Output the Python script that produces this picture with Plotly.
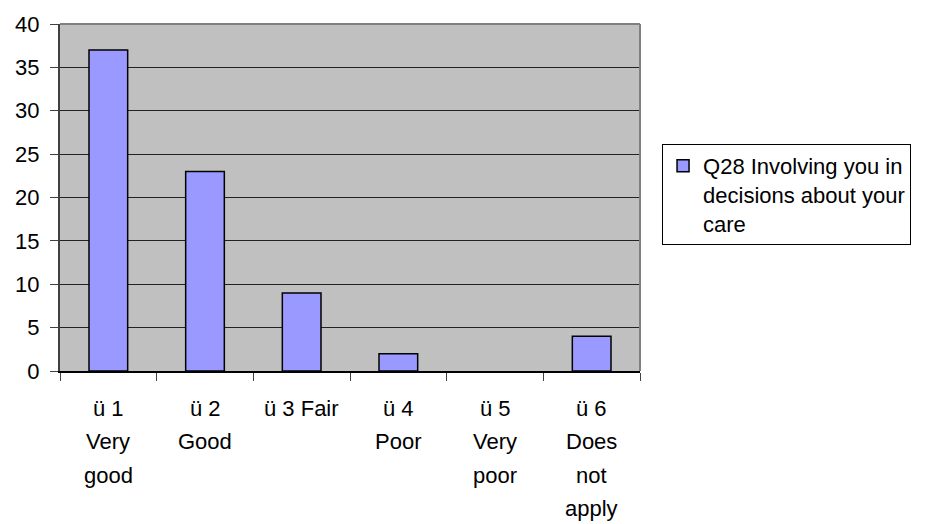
import plotly.graph_objects as go

# survey answers for Q28 (counts)
categories = ["c1", "c2", "c3", "c4", "c5", "c6"]
label_lines = [
    ["ü 1", "Very", "good"],
    ["ü 2", "Good"],
    ["ü 3 Fair"],
    ["ü 4", "Poor"],
    ["ü 5", "Very", "poor"],
    ["ü 6", "Does", "not", "apply"],
]
counts = [37, 23, 9, 2, 0, 4]
series_name = "Q28 Involving you in<br>decisions about your<br>care"

# no outline on an empty bar (Excel draws nothing there)
outline_widths = [1.5 if c > 0 else 0 for c in counts]

fig = go.Figure(
    data=[
        go.Bar(
            name=series_name,
            x=categories,
            y=counts,
            marker=dict(color="#9999FF", line=dict(color="#000000", width=outline_widths)),
            showlegend=True,
        )
    ]
)

# x labels drawn line by line so the spacing matches the old Excel look
annotations = []
for cat, lines in zip(categories, label_lines):
    for i, line in enumerate(lines):
        annotations.append(
            dict(
                x=cat,
                y=0,
                xref="x",
                yref="y",
                text=line,
                showarrow=False,
                xanchor="center",
                yanchor="middle",
                yshift=-(37 + 33.5 * i),
                font=dict(size=22, color="black"),
            )
        )

fig.update_layout(
    width=940,
    height=524,
    autosize=False,
    bargap=0.6,
    plot_bgcolor="#C0C0C0",
    paper_bgcolor="white",
    font=dict(family="Liberation Sans, Arial, sans-serif", size=22, color="black"),
    margin=dict(l=60, r=300, t=24, b=153, autoexpand=False),
    annotations=annotations,
    legend=dict(
        x=1.038,
        y=0.654,
        xanchor="left",
        yanchor="top",
        bordercolor="black",
        borderwidth=1,
        bgcolor="white",
        font=dict(size=22),
        valign="top",
    ),
    # grey frame on top and right like the original
    shapes=[
        dict(type="line", xref="paper", yref="paper", x0=0, x1=1, y0=1, y1=1,
             line=dict(color="#808080", width=2), layer="above"),
        dict(type="line", xref="paper", yref="paper", x0=1, x1=1, y0=0, y1=1,
             line=dict(color="#808080", width=2), layer="above"),
    ],
)

fig.update_xaxes(
    type="category",
    showticklabels=False,
    ticks="outside",
    tickson="boundaries",
    ticklen=8,
    tickcolor="#404040",
    showline=True,
    linecolor="black",
    linewidth=2,
    showgrid=False,
    automargin=False,
)
fig.update_yaxes(
    range=[0, 40],
    dtick=5,
    ticks="outside",
    ticklen=8,
    tickcolor="#404040",
    ticklabelstandoff=6,
    showgrid=True,
    gridcolor="#222222",
    gridwidth=1,
    showline=True,
    linecolor="#404040",
    linewidth=2,
    zeroline=False,
    automargin=False,
)

# drop the page's default body margin so the figure fills the window
fig.write_html(
    "out.html",
    config={"displayModeBar": False},
    post_script="document.body.style.margin = '0';",
)
